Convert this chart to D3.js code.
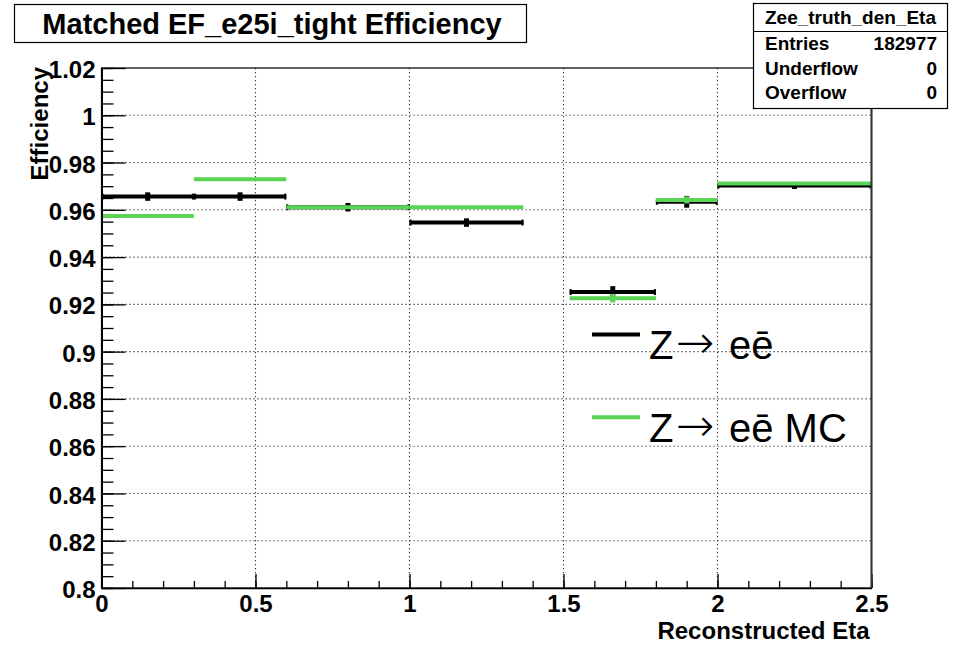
<!DOCTYPE html>
<html>
<head>
<meta charset="utf-8">
<script src="https://cdn.jsdelivr.net/npm/d3@7"></script>
<style>
  body { margin: 0; background: #fff; }
  svg { display: block; font-family: "Liberation Sans", Arial, Helvetica, sans-serif; }
</style>
</head>
<body>
<div id="chart"></div>
<script>
// eta bins (lower / upper edges), crack bin 1.37-1.52 is empty
const binLo = [0, 0.3, 0.6, 1.0, 1.37, 1.52, 1.8, 2.0];
const binHi = [0.3, 0.6, 1.0, 1.37, 1.52, 1.8, 2.0, 2.5];

// Z->ee data
const dataEff = [0.9656, 0.9656, 0.9611, 0.9546, null, 0.9252, 0.9634, 0.9703];
const dataErr = [0.0018, 0.0018, 0.0018, 0.0018, null, 0.0025, 0.0025, 0.0015];
// Z->ee MC
const mcEff = [0.9574, 0.9729, 0.9611, 0.9611, null, 0.9226, 0.9642, 0.9711];
const mcErr = [0.0005, 0.0005, 0.0004, 0.0004, null, 0.0018, 0.0015, 0.0004];

const xTickLabels = ["0", "0.5", "1", "1.5", "2", "2.5"];
const yTickLabels = ["0.8", "0.82", "0.84", "0.86", "0.88", "0.9", "0.92", "0.94", "0.96", "0.98", "1", "1.02"];

const statName = "Zee_truth_den_Eta";
const statLabels = ["Entries", "Underflow", "Overflow"];
const statValues = ["182977", "0", "0"];

const titleText = "Matched EF_e25i_tight Efficiency";
const legendNames = ["Z", "Z"];
const legendSuffix = ["e\u0113", "e\u0113 MC"];
const colors = ["#000000", "#59d454"];

// geometry
const width = 954, height = 645;
const frame = { left: 101.5, right: 871.5, top: 68, bottom: 588 };

const svg = d3.select("#chart").append("svg")
  .attr("width", width)
  .attr("height", height);

const x = d3.scaleLinear().domain([0, 2.5]).range([frame.left, frame.right]);
const y = d3.scaleLinear().domain([0.8, 1.02]).range([frame.bottom, frame.top]);

const xMajor = xTickLabels.map(Number);
const yMajor = yTickLabels.map(Number);

// dotted grid
const grid = svg.append("g")
  .attr("stroke", "#333")
  .attr("stroke-width", 1.1)
  .attr("stroke-dasharray", "1.2,2.8");
grid.selectAll(".gx")
  .data(xMajor.filter(d => d > 0 && d < 2.5))
  .enter().append("line")
  .attr("x1", d => x(d)).attr("x2", d => x(d))
  .attr("y1", frame.top).attr("y2", frame.bottom);
grid.selectAll(".gy")
  .data(yMajor.filter(d => d > 0.8 && d < 1.02))
  .enter().append("line")
  .attr("y1", d => y(d)).attr("y2", d => y(d))
  .attr("x1", frame.left).attr("x2", frame.right);

// draw one histogram as horizontal bin lines + vertical error bars
function drawHist(eff, err, col, cls, ends) {
  const rows = eff.map((v, i) => ({ v: v, e: err[i], lo: binLo[i], hi: binHi[i] }))
    .filter(d => d.v !== null);
  const g = svg.append("g").attr("class", cls);

  g.selectAll("line.bin")
    .data(rows).enter().append("line")
    .attr("class", "bin")
    .attr("x1", d => x(d.lo)).attr("x2", d => x(d.hi))
    .attr("y1", d => y(d.v)).attr("y2", d => y(d.v))
    .attr("stroke", col)
    .attr("stroke-width", 4);

  if (ends) {
    // small end ticks at bin edges
    g.selectAll("line.endlo")
      .data(rows).enter().append("line")
      .attr("x1", d => x(d.lo) + 1).attr("x2", d => x(d.lo) + 1)
      .attr("y1", d => y(d.v) - 3).attr("y2", d => y(d.v) + 3)
      .attr("stroke", col).attr("stroke-width", 2);
    g.selectAll("line.endhi")
      .data(rows).enter().append("line")
      .attr("x1", d => x(d.hi) - 1).attr("x2", d => x(d.hi) - 1)
      .attr("y1", d => y(d.v) - 3).attr("y2", d => y(d.v) + 3)
      .attr("stroke", col).attr("stroke-width", 2);
  }

  g.selectAll("line.err")
    .data(rows).enter().append("line")
    .attr("class", "err")
    .attr("x1", d => x((d.lo + d.hi) / 2)).attr("x2", d => x((d.lo + d.hi) / 2))
    .attr("y1", d => y(d.v + d.e)).attr("y2", d => y(d.v - d.e))
    .attr("stroke", col)
    .attr("stroke-width", 5);
}

drawHist(dataEff, dataErr, colors[0], "data", true);
drawHist(mcEff, mcErr, colors[1], "mc", false);

// axes, ROOT style: ticks inside the frame
const yAxis = svg.append("g")
  .attr("transform", "translate(" + frame.left + ",0)")
  .call(d3.axisLeft(y).tickValues(yMajor).tickSizeInner(-24).tickSizeOuter(0)
    .tickPadding(6).tickFormat((d, i) => yTickLabels[i]));
svg.append("g")
  .attr("transform", "translate(" + frame.left + ",0)")
  .call(d3.axisLeft(y).ticks(44).tickSizeInner(-12).tickSizeOuter(0).tickFormat(""))
  .select(".domain").remove();

const xAxis = svg.append("g")
  .attr("transform", "translate(0," + frame.bottom + ")")
  .call(d3.axisBottom(x).tickValues(xMajor).tickSizeInner(-14).tickSizeOuter(0)
    .tickPadding(7).tickFormat((d, i) => xTickLabels[i]));
svg.append("g")
  .attr("transform", "translate(0," + frame.bottom + ")")
  .call(d3.axisBottom(x).ticks(25).tickSizeInner(-7).tickSizeOuter(0).tickFormat(""))
  .select(".domain").remove();

svg.selectAll(".tick line").attr("stroke", "#000").attr("stroke-width", 1.3);
svg.selectAll(".tick text")
  .attr("fill", "#000")
  .style("font-size", "24px")
  .style("font-weight", "bold");
yAxis.selectAll(".tick text").attr("dy", "0.4em");

// frame
svg.append("rect")
  .attr("x", frame.left).attr("y", frame.top)
  .attr("width", frame.right - frame.left).attr("height", frame.bottom - frame.top)
  .attr("fill", "none").attr("stroke", "#000").attr("stroke-width", 1.2);
svg.append("line")
  .attr("x1", frame.right).attr("x2", frame.right)
  .attr("y1", frame.top).attr("y2", frame.bottom)
  .attr("stroke", "#333").attr("stroke-width", 2);
yAxis.select(".domain").attr("stroke-width", 2);
xAxis.select(".domain").attr("stroke-width", 1.6);

// axis titles
svg.append("text")
  .attr("transform", "translate(48," + (frame.top - 1) + ") rotate(-90)")
  .attr("text-anchor", "end")
  .style("font-size", "24px").style("font-weight", "bold")
  .text("Efficiency");
svg.append("text")
  .attr("x", frame.right - 2).attr("y", 639)
  .attr("text-anchor", "end")
  .style("font-size", "24px").style("font-weight", "bold")
  .text("Reconstructed Eta");

// title box
svg.append("rect")
  .attr("x", 14.5).attr("y", 4.5).attr("width", 512).attr("height", 38)
  .attr("fill", "#fff").attr("stroke", "#000").attr("stroke-width", 1.2);
svg.append("text")
  .attr("x", 272).attr("y", 34)
  .attr("text-anchor", "middle")
  .style("font-size", "29px").style("font-weight", "bold")
  .text(titleText);

// stats box
const stats = svg.append("g");
stats.append("rect")
  .attr("x", 753.5).attr("y", 3.5).attr("width", 194).attr("height", 105)
  .attr("fill", "#fff").attr("stroke", "#000").attr("stroke-width", 1.2);
stats.append("line")
  .attr("x1", 753.5).attr("x2", 947.5).attr("y1", 31.5).attr("y2", 31.5)
  .attr("stroke", "#000").attr("stroke-width", 1.2);
stats.append("text")
  .attr("x", 850.5).attr("y", 24)
  .attr("text-anchor", "middle")
  .style("font-size", "19px").style("font-weight", "bold")
  .text(statName);
statLabels.forEach((lab, i) => {
  stats.append("text")
    .attr("x", 765).attr("y", 50 + i * 24.5)
    .style("font-size", "19px").style("font-weight", "bold")
    .text(lab);
  stats.append("text")
    .attr("x", 937).attr("y", 50 + i * 24.5)
    .attr("text-anchor", "end")
    .style("font-size", "19px").style("font-weight", "bold")
    .text(statValues[i]);
});

// legend
const legend = svg.append("g");
legendNames.forEach((nm, i) => {
  const base = 359 + i * 82.7;
  legend.append("line")
    .attr("x1", 592).attr("x2", 640)
    .attr("y1", base - 24.5).attr("y2", base - 24.5)
    .attr("stroke", colors[i]).attr("stroke-width", 4);
  const t = legend.append("text")
    .attr("y", base)
    .style("font-size", "40px");
  t.append("tspan").attr("x", 649).text(nm);
  t.append("tspan").attr("x", 676).attr("dy", -1)
    .style("font-family", "'DejaVu Sans'").style("font-size", "46px")
    .style("font-weight", "200")
    .text("\u2192");
  t.append("tspan").attr("x", 729).attr("dy", 1).text(legendSuffix[i]);
});
</script>
</body>
</html>
